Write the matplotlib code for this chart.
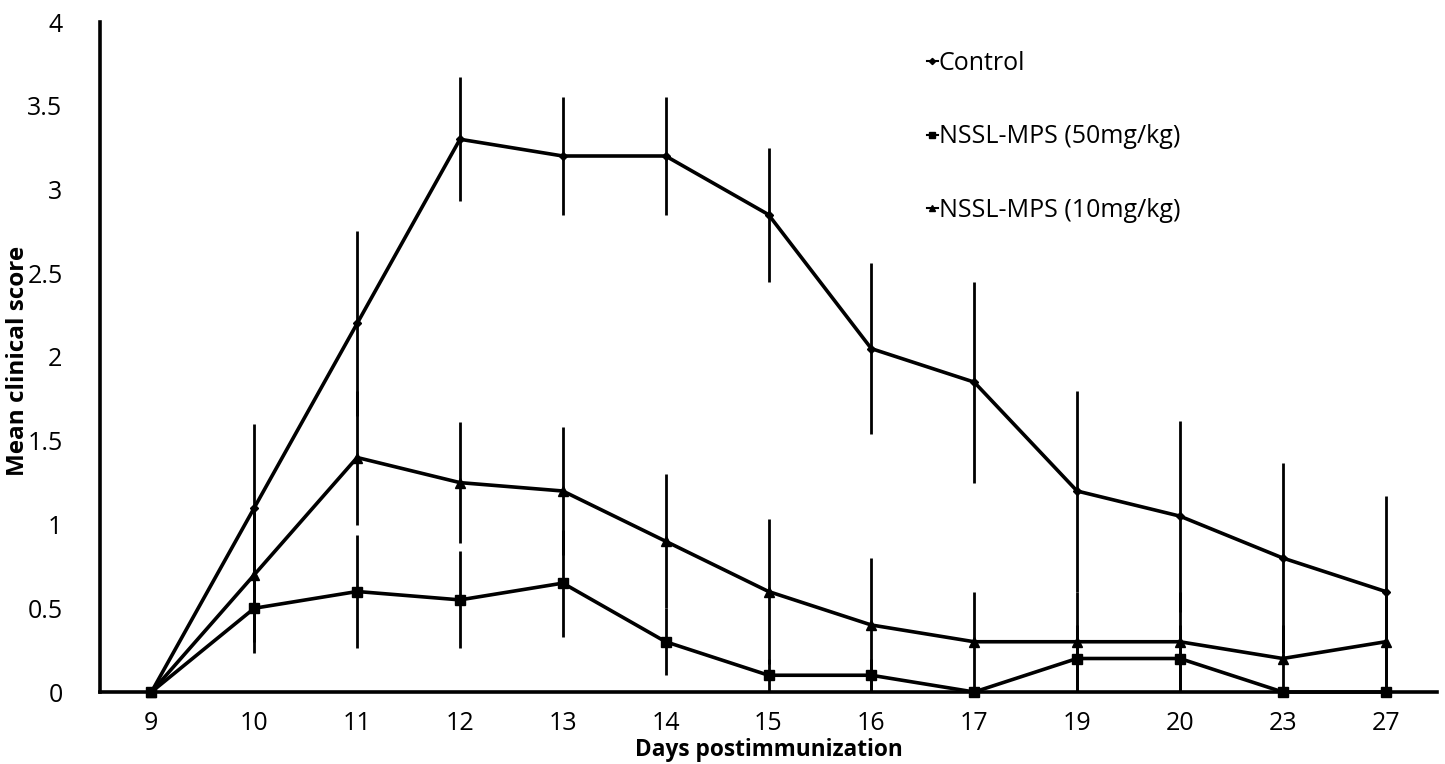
import matplotlib
matplotlib.use("Agg")
import matplotlib.pyplot as plt
import numpy as np

days = ["9", "10", "11", "12", "13", "14", "15", "16", "17", "19", "20", "23", "27"]

control = [0, 1.1, 2.2, 3.3, 3.2, 3.2, 2.85, 2.05, 1.85, 1.2, 1.05, 0.8, 0.6]
control_err = [0, 0.5, 0.55, 0.37, 0.35, 0.35, 0.4, 0.51, 0.6, 0.6, 0.57, 0.57, 0.57]

mps50 = [0, 0.5, 0.6, 0.55, 0.65, 0.3, 0.1, 0.1, 0, 0.2, 0.2, 0, 0]
mps50_err = [0, 0.27, 0.34, 0.29, 0.32, 0.2, 0.1, 0.1, 0, 0.2, 0.2, 0, 0]

mps10 = [0, 0.7, 1.4, 1.25, 1.2, 0.9, 0.6, 0.4, 0.3, 0.3, 0.3, 0.2, 0.3]
mps10_err = [0, 0.4, 0.4, 0.36, 0.38, 0.4, 0.43, 0.4, 0.3, 0.3, 0.3, 0.2, 0.3]

labels = ["Control", "NSSL-MPS (50mg/kg)", "NSSL-MPS (10mg/kg)"]

fig = plt.figure(figsize=(14.45, 7.64), dpi=100)
ax = fig.add_axes([100 / 1445, 72 / 764, 1337 / 1445, 670 / 764])

x = np.arange(len(days))
series = [
    (control, control_err, "D", 4.5),
    (mps50, mps50_err, "s", 7),
    (mps10, mps10_err, "^", 7),
]
for (vals, err, mk, ms), lab in zip(series, labels):
    ax.errorbar(x, vals, yerr=err, fmt="none", ecolor="black", elinewidth=2.0,
                capsize=0, zorder=2)
    ax.plot(x, vals, color="black", lw=2.6, marker=mk, markersize=ms,
            markerfacecolor="black", markeredgecolor="black", label=lab,
            zorder=3, clip_on=False)

ax.set_xlim(-0.5, len(days) - 0.5)
ax.set_ylim(0, 4)
ax.set_xticks(x)
ax.set_xticklabels(days)
ax.set_yticks(np.arange(0, 4.01, 0.5))
ax.set_yticklabels(["0", "0.5", "1", "1.5", "2", "2.5", "3", "3.5", "4"])
ax.tick_params(axis="both", length=0, labelsize=18)
ax.tick_params(axis="x", pad=14)
ax.tick_params(axis="y", pad=27)
for lab in ax.get_xticklabels() + ax.get_yticklabels():
    lab.set_family("Open Sans")

for s in ["top", "right"]:
    ax.spines[s].set_visible(False)
for s in ["left", "bottom"]:
    ax.spines[s].set_linewidth(2.6)

ax.set_xlabel("Days postimmunization", fontsize=16.3, fontweight="bold",
              family="Open Sans", labelpad=1)
fig.text(18 / 1445, 1 - 361 / 764, "Mean clinical score", rotation=90,
         ha="center", va="center", fontsize=17.5, fontweight="bold",
         family="Open Sans")

leg = ax.legend(loc="upper left", bbox_to_anchor=(904 / 1445, 1 - 28 / 764),
                bbox_transform=fig.transFigure, frameon=False,
                handlelength=0.45, handletextpad=0.05, labelspacing=1.95,
                prop={"family": "Open Sans", "size": 18}, markerscale=0.7)
for h in leg.get_lines():
    h.set_linewidth(1.5)

fig.savefig("out.png", dpi=100, facecolor="white")
